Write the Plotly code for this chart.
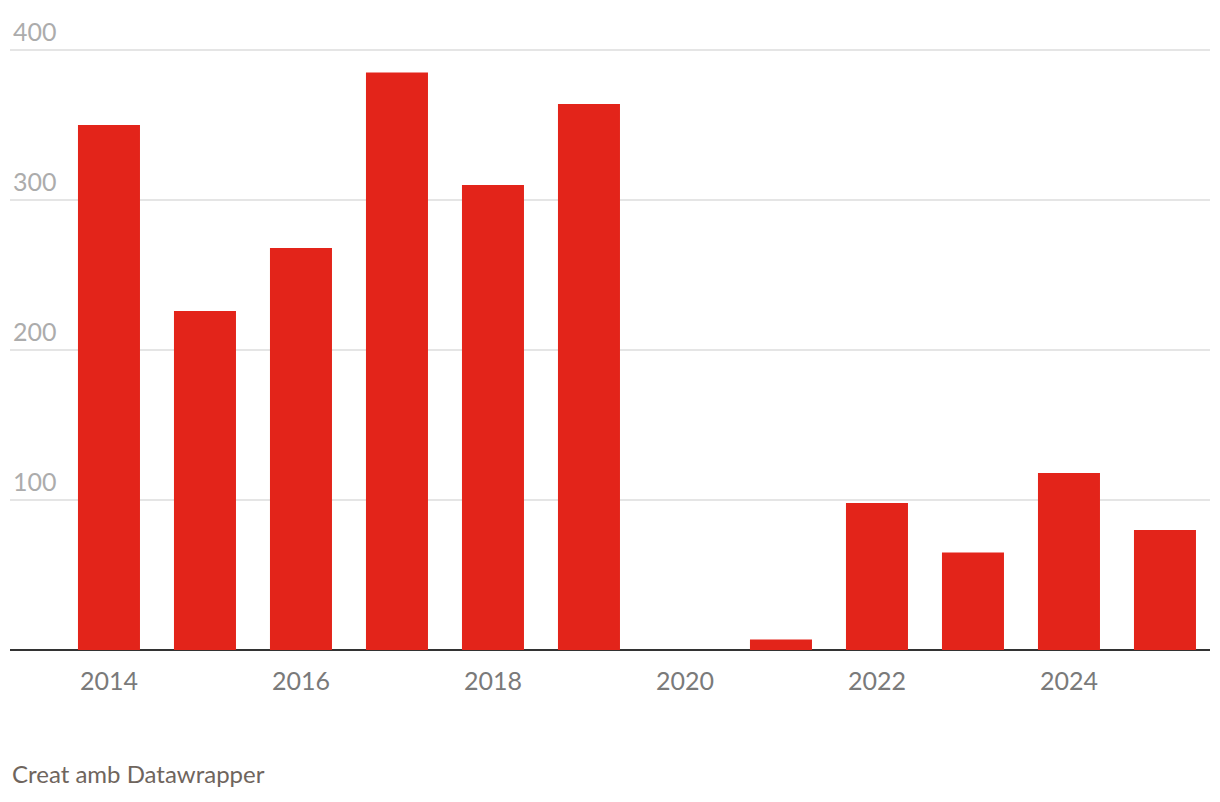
import plotly.graph_objects as go

years = [2014, 2015, 2016, 2017, 2018, 2019, 2020, 2021, 2022, 2023, 2024, 2025]
values = [350, 226, 268, 385, 310, 364, 0, 7, 98, 65, 118, 80]
y_ticks = [100, 200, 300, 400]
x_ticks = [2014, 2016, 2018, 2020, 2022, 2024]
footer = "Creat amb Datawrapper"

FONT = "Lato"

fig = go.Figure()
fig.add_trace(go.Bar(
    x=years, y=values,
    marker=dict(color="#e3241a", line=dict(width=0)),
    width=0.646,
    hoverinfo="x+y",
))

W, H = 1220, 802
left, right, top, bottom = 10, 10, 8, 152
plot_h = H - top - bottom

fig.update_layout(
    width=W, height=H,
    margin=dict(l=left, r=right, t=top, b=bottom, pad=0),
    paper_bgcolor="white", plot_bgcolor="white",
    showlegend=False,
    font=dict(family=FONT),
    xaxis=dict(
        range=[2012.969, 2025.469],
        tickvals=x_ticks,
        ticktext=[str(v) for v in x_ticks],
        showgrid=False, zeroline=False, showline=False,
        ticks="",
        tickfont=dict(family=FONT, size=25, color="#7a7a7a"),
        ticklabelstandoff=14,
        fixedrange=True,
    ),
    yaxis=dict(
        range=[0, 428],
        tickvals=y_ticks,
        ticktext=[str(v) for v in y_ticks],
        showgrid=True, gridcolor="#e5e5e5", gridwidth=1.5,
        zeroline=True, zerolinecolor="#333333", zerolinewidth=2,
        showline=False, ticks="",
        ticklabelposition="inside top",
        tickfont=dict(family=FONT, size=25, color="#acacac"),
        fixedrange=True,
    ),
    annotations=[dict(
        text=footer, xref="paper", yref="paper",
        x=0, y=(650 - 773) / plot_h, xanchor="left", yanchor="middle",
        showarrow=False,
        font=dict(family=FONT, size=24, color="#6f655d"),
    )],
)

fig.write_html("out.html",
               config={"displayModeBar": False},
               post_script="document.body.style.margin='0';document.body.style.overflow='hidden';")
